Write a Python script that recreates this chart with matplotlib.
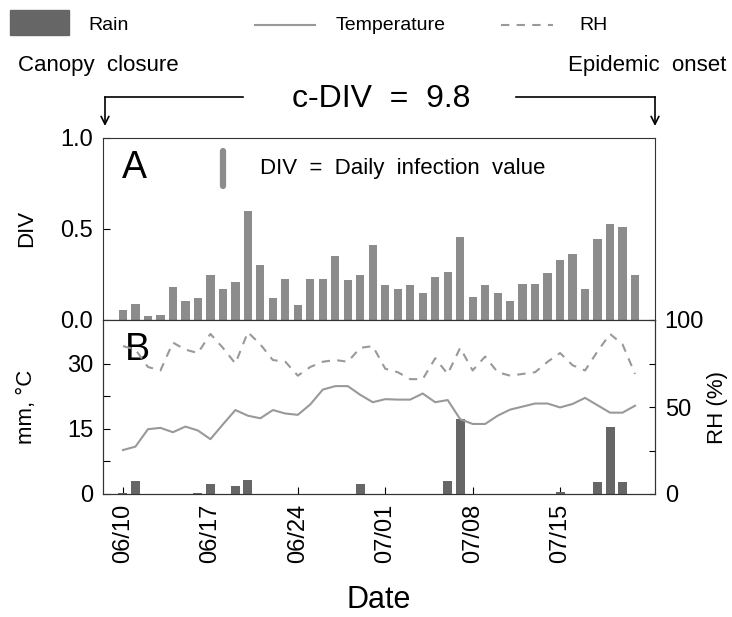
import matplotlib
matplotlib.use("Agg")
import matplotlib.pyplot as plt
from matplotlib.lines import Line2D
from matplotlib.patches import Rectangle

plt.rcParams['font.family'] = ['Liberation Sans', 'DejaVu Sans']

# day index 0 = 06/10 ... 41 = 07/21
days = list(range(42))
tick_days = [0, 7, 14, 21, 28, 35]
tick_labels = ['06/10', '06/17', '06/24', '07/01', '07/08', '07/15']

div = [0.055, 0.086, 0.02, 0.03, 0.18, 0.106, 0.12, 0.245, 0.17, 0.21,
       0.60, 0.30, 0.12, 0.225, 0.08, 0.227, 0.227, 0.35, 0.22, 0.245,
       0.41, 0.19, 0.17, 0.19, 0.15, 0.235, 0.265, 0.456, 0.128, 0.19,
       0.15, 0.106, 0.20, 0.20, 0.256, 0.33, 0.36, 0.17, 0.445, 0.527,
       0.507, 0.245]

rain = [0.2, 3.1, 0, 0, 0, 0, 0.3, 2.2, 0, 1.8,
        3.3, 0, 0, 0, 0, 0, 0, 0, 0, 2.2,
        0, 0, 0, 0, 0, 0, 3.1, 17.2, 0, 0,
        0, 0, 0, 0, 0, 0.5, 0, 0, 2.8, 15.5,
        2.8, 0]

temp = [10.1, 10.9, 14.9, 15.2, 14.2, 15.5, 14.6, 12.6, 16.0, 19.3,
        18.0, 17.4, 19.3, 18.5, 18.2, 20.6, 24.0, 24.8, 24.8, 22.8,
        21.1, 21.8, 21.7, 21.7, 23.1, 21.1, 21.6, 17.2, 16.1, 16.1,
        18.0, 19.4, 20.1, 20.8, 20.8, 19.9, 20.7, 22.1, 20.4, 18.7,
        18.7, 20.3]

rh = [85, 83, 73, 71, 87, 83, 81, 92, 84, 75,
      93, 86, 77, 76, 68, 73, 76, 77, 76, 84,
      85, 72, 70, 66, 66, 78, 69, 84, 71, 79,
      70, 68, 69, 70, 76, 81, 74, 71, 82, 92,
      86, 69]

W, H = 732, 617
def fx(px):
    return px / W
def fy(py):
    return 1 - py / H

fig = plt.figure(figsize=(W / 100, H / 100), dpi=100)

left, right = 103, 655
ax_a = fig.add_axes([fx(left), fy(320), (right - left) / W, (320 - 137.5) / H])
ax_b = fig.add_axes([fx(left), fy(494), (right - left) / W, (494 - 320) / H])

# panel A
ax_a.bar(days, div, width=0.66, color='#8c8c8c')
ax_a.set_xlim(-1.6, 42.6)
ax_a.set_ylim(0, 1)
ax_a.set_yticks([0, 0.5, 1.0])
ax_a.set_yticklabels(['0.0', '0.5', '1.0'])
ax_a.set_xticks([])
ax_a.tick_params(axis='y', direction='in', length=5, labelsize=17, pad=7)
ax_a.set_ylabel('DIV', fontsize=16)
ax_a.yaxis.set_label_coords(-0.12, 0.5)
ax_a.text(0.035, 0.93, 'A', transform=ax_a.transAxes, fontsize=27, ha='left', va='top')
ax_a.add_line(Line2D([0.217, 0.217], [0.925, 0.735], transform=ax_a.transAxes,
                     color='#8c8c8c', lw=4.5, solid_capstyle='round'))
ax_a.text(0.285, 0.83, 'DIV  =  Daily  infection  value', transform=ax_a.transAxes,
          fontsize=16, ha='left', va='center')

# panel B
ax_b.bar(days, rain, width=0.72, color='#666666', zorder=2)
ax_b.plot(days, temp, color='#999999', lw=1.5, zorder=3)
ax_b.set_xlim(-1.6, 42.6)
ax_b.set_ylim(0, 40)
ax_b.set_yticks([0, 7.5, 15, 22.5, 30])
ax_b.set_yticklabels(['0', '', '15', '', '30'])
ax_b.set_xticks(tick_days)
ax_b.set_xticklabels(tick_labels, rotation=90)
ax_b.tick_params(axis='both', direction='in', length=5, labelsize=17, pad=7)
ax_b.set_ylabel('mm, \u00b0C', fontsize=16)
ax_b.yaxis.set_label_coords(-0.12, 0.5)
ax_b.set_xlabel('Date', fontsize=22, labelpad=16)
ax_b.text(0.04, 0.93, 'B', transform=ax_b.transAxes, fontsize=27, ha='left', va='top')

ax_r = ax_b.twinx()
ax_r.plot(days, rh, color='#999999', lw=1.5, dashes=(4, 3.5))
ax_r.set_ylim(0, 100)
ax_r.set_yticks([0, 25, 50, 75, 100])
ax_r.set_yticklabels(['0', '', '50', '', '100'])
ax_r.tick_params(axis='y', direction='in', length=4, labelsize=17, pad=7)
ax_r.set_ylabel('RH (%)', fontsize=16)
ax_r.yaxis.set_label_coords(1.095, 0.5)

for ax in (ax_a, ax_b, ax_r):
    for s in ax.spines.values():
        s.set_color('#333333')

# legend across the top
fig.add_artist(Rectangle((fx(10), fy(35)), (69 - 10) / W, 25 / H,
                         transform=fig.transFigure, color='#666666'))
fig.text(fx(88), fy(26), 'Rain', fontsize=14, va='center', ha='left')
fig.add_artist(Line2D([fx(255), fx(315)], [fy(25), fy(25)], transform=fig.transFigure,
                      color='#999999', lw=1.5))
fig.text(fx(336), fy(26), 'Temperature', fontsize=14, va='center', ha='left')
fig.add_artist(Line2D([fx(501), fx(553)], [fy(25), fy(25)], transform=fig.transFigure,
                      color='#999999', lw=1.5, dashes=(4, 3.5)))
fig.text(fx(579), fy(26), 'RH', fontsize=14, va='center', ha='left')

# canopy closure -> epidemic onset bracket
fig.text(fx(18), fy(66), 'Canopy  closure', fontsize=16, va='center', ha='left')
fig.text(fx(726), fy(66), 'Epidemic  onset', fontsize=16, va='center', ha='right')
fig.text(fx(381), fy(99), 'c-DIV  =  9.8', fontsize=23, va='center', ha='center')
fig.add_artist(Line2D([fx(105), fx(243)], [fy(97), fy(97)], transform=fig.transFigure,
                      color='black', lw=1.2))
fig.add_artist(Line2D([fx(516), fx(655)], [fy(97), fy(97)], transform=fig.transFigure,
                      color='black', lw=1.2))
for xp in (105, 655):
    fig.add_artist(plt.Annotation('', xy=(fx(xp), fy(126)), xytext=(fx(xp), fy(97)),
                                  xycoords='figure fraction', textcoords='figure fraction',
                                  arrowprops=dict(arrowstyle='->', color='black', lw=1.2,
                                                  shrinkA=0, shrinkB=0,
                                                  mutation_scale=14)))

fig.savefig('out.png', dpi=100)
